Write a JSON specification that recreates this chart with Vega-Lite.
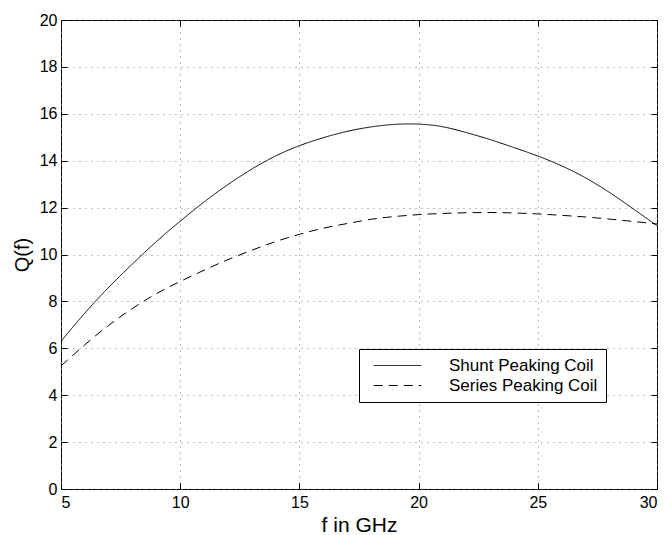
{
  "$schema": "https://vega.github.io/schema/vega-lite/v6.json",
  "autosize": "none",
  "width": 596,
  "height": 469,
  "padding": {"left": 61, "top": 20, "right": 11, "bottom": 46},
  "background": "white",
  "config": {
    "font": "Liberation Sans",
    "view": {"stroke": "black", "strokeWidth": 1},
    "axis": {"domain": false, "tickColor": "black", "labelColor": "black", "titleColor": "black", "labelFont": "Liberation Sans", "titleFont": "Liberation Sans", "titleFontWeight": "normal"}
  },
  "data": {"values": [
    {"f": 5, "Q": 6.3, "series": "Shunt Peaking Coil"},
    {"f": 6, "Q": 7.5, "series": "Shunt Peaking Coil"},
    {"f": 7, "Q": 8.6, "series": "Shunt Peaking Coil"},
    {"f": 8, "Q": 9.6, "series": "Shunt Peaking Coil"},
    {"f": 9, "Q": 10.55, "series": "Shunt Peaking Coil"},
    {"f": 10, "Q": 11.42, "series": "Shunt Peaking Coil"},
    {"f": 11, "Q": 12.24, "series": "Shunt Peaking Coil"},
    {"f": 12, "Q": 12.98, "series": "Shunt Peaking Coil"},
    {"f": 13, "Q": 13.64, "series": "Shunt Peaking Coil"},
    {"f": 14, "Q": 14.2, "series": "Shunt Peaking Coil"},
    {"f": 15, "Q": 14.64, "series": "Shunt Peaking Coil"},
    {"f": 16, "Q": 14.98, "series": "Shunt Peaking Coil"},
    {"f": 17, "Q": 15.25, "series": "Shunt Peaking Coil"},
    {"f": 18, "Q": 15.44, "series": "Shunt Peaking Coil"},
    {"f": 19, "Q": 15.55, "series": "Shunt Peaking Coil"},
    {"f": 20, "Q": 15.56, "series": "Shunt Peaking Coil"},
    {"f": 21, "Q": 15.45, "series": "Shunt Peaking Coil"},
    {"f": 22, "Q": 15.2, "series": "Shunt Peaking Coil"},
    {"f": 23, "Q": 14.9, "series": "Shunt Peaking Coil"},
    {"f": 24, "Q": 14.56, "series": "Shunt Peaking Coil"},
    {"f": 25, "Q": 14.2, "series": "Shunt Peaking Coil"},
    {"f": 26, "Q": 13.78, "series": "Shunt Peaking Coil"},
    {"f": 27, "Q": 13.27, "series": "Shunt Peaking Coil"},
    {"f": 28, "Q": 12.65, "series": "Shunt Peaking Coil"},
    {"f": 29, "Q": 11.95, "series": "Shunt Peaking Coil"},
    {"f": 30, "Q": 11.23, "series": "Shunt Peaking Coil"},
    {"f": 5, "Q": 5.25, "series": "Series Peaking Coil"},
    {"f": 6, "Q": 6.15, "series": "Series Peaking Coil"},
    {"f": 7, "Q": 6.98, "series": "Series Peaking Coil"},
    {"f": 8, "Q": 7.7, "series": "Series Peaking Coil"},
    {"f": 9, "Q": 8.33, "series": "Series Peaking Coil"},
    {"f": 10, "Q": 8.85, "series": "Series Peaking Coil"},
    {"f": 11, "Q": 9.33, "series": "Series Peaking Coil"},
    {"f": 12, "Q": 9.78, "series": "Series Peaking Coil"},
    {"f": 13, "Q": 10.18, "series": "Series Peaking Coil"},
    {"f": 14, "Q": 10.55, "series": "Series Peaking Coil"},
    {"f": 15, "Q": 10.86, "series": "Series Peaking Coil"},
    {"f": 16, "Q": 11.12, "series": "Series Peaking Coil"},
    {"f": 17, "Q": 11.32, "series": "Series Peaking Coil"},
    {"f": 18, "Q": 11.5, "series": "Series Peaking Coil"},
    {"f": 19, "Q": 11.62, "series": "Series Peaking Coil"},
    {"f": 20, "Q": 11.7, "series": "Series Peaking Coil"},
    {"f": 21, "Q": 11.75, "series": "Series Peaking Coil"},
    {"f": 22, "Q": 11.78, "series": "Series Peaking Coil"},
    {"f": 23, "Q": 11.79, "series": "Series Peaking Coil"},
    {"f": 24, "Q": 11.77, "series": "Series Peaking Coil"},
    {"f": 25, "Q": 11.73, "series": "Series Peaking Coil"},
    {"f": 26, "Q": 11.67, "series": "Series Peaking Coil"},
    {"f": 27, "Q": 11.6, "series": "Series Peaking Coil"},
    {"f": 28, "Q": 11.51, "series": "Series Peaking Coil"},
    {"f": 29, "Q": 11.41, "series": "Series Peaking Coil"},
    {"f": 30, "Q": 11.3, "series": "Series Peaking Coil"}
  ]},
  "resolve": {"axis": {"x": "independent", "y": "independent"}},
  "layer": [
    {
      "mark": {"type": "line", "color": "black", "strokeWidth": 1, "interpolate": "natural", "clip": true},
      "encoding": {
        "x": {"field": "f", "type": "quantitative", "scale": {"domain": [5, 30], "nice": false, "zero": false},
          "axis": {"orient": "bottom", "values": [5, 10, 15, 20, 25, 30], "title": "f in GHz", "titleFontSize": 21, "titleBaseline": "alphabetic", "titleY": 42, "labelFontSize": 16, "labelPadding": 11, "tickSize": -6, "grid": true, "gridColor": "#808080", "gridDash": [1, 5], "gridWidth": 1}},
        "y": {"field": "Q", "type": "quantitative", "scale": {"domain": [0, 20], "nice": false},
          "axis": {"orient": "left", "values": [0, 2, 4, 6, 8, 10, 12, 14, 16, 18, 20], "title": "Q(f)", "titleFontSize": 20, "titleBaseline": "middle", "titleX": -39, "titleAngle": -90, "labelFontSize": 16, "labelPadding": 10, "tickSize": -6, "grid": true, "gridColor": "#808080", "gridDash": [1, 5], "gridWidth": 1}},
        "strokeDash": {"field": "series", "type": "nominal",
          "scale": {"domain": ["Shunt Peaking Coil", "Series Peaking Coil"], "range": [[1, 0], [9, 6]]},
          "legend": {"title": null, "orient": "none", "legendX": 298, "legendY": 329, "fillColor": "white", "strokeColor": "black", "padding": 8, "cornerRadius": 0,
            "symbolType": "M-3.4,0H3.4", "symbolSize": 196, "symbolStrokeColor": "black", "symbolStrokeWidth": 1, "symbolDash": null, "symbolOffset": 22,
            "labelFontSize": 17, "labelFont": "Liberation Sans", "labelColor": "black", "labelOffset": 43, "rowPadding": 2, "labelLimit": 300}}
      }
    },
    {
      "mark": {"type": "line", "strokeOpacity": 0},
      "encoding": {
        "x": {"field": "f", "type": "quantitative", "axis": {"orient": "top", "values": [5, 10, 15, 20, 25, 30], "labels": false, "title": null, "tickSize": -6, "grid": false}},
        "y": {"field": "Q", "type": "quantitative", "axis": {"orient": "right", "values": [0, 2, 4, 6, 8, 10, 12, 14, 16, 18, 20], "labels": false, "title": null, "tickSize": -6, "grid": false}},
        "detail": {"field": "series"}
      }
    }
  ]
}
